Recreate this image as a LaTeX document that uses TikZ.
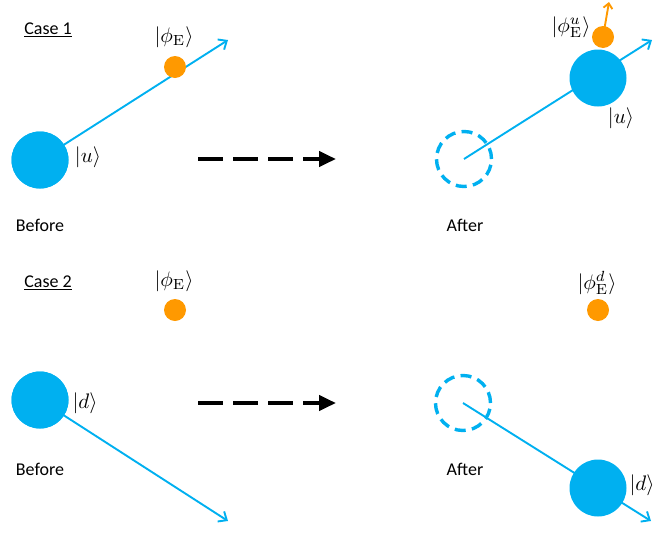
\documentclass[tikz,border=0pt]{standalone}
\usepackage{fontspec}
\usepackage{graphicx}
\setsansfont{Carlito}
\usetikzlibrary{arrows.meta}
\definecolor{qblue}{HTML}{00B0F0}
\definecolor{qorange}{HTML}{FF9900}
\newcommand{\mth}[1]{\scalebox{2.1}{$#1$}}
\begin{document}
\begin{tikzpicture}[x=1pt,y=-1pt,
  big/.style={circle,fill=qblue,minimum size=57pt,inner sep=0pt},
  ghost/.style={circle,draw=qblue,line width=3.4pt,dash pattern=on 11pt off 6.3pt,minimum size=55pt,inner sep=0pt},
  env/.style={circle,fill=qorange,minimum size=22pt,inner sep=0pt},
  path/.style={draw=qblue,line width=1.9pt,-{Straight Barb[length=7pt,width=12pt,line width=1.9pt]}},
  txt/.style={font=\sffamily\fontsize{18}{21}\selectfont},
  mlab/.style={inner sep=1pt},
  proc/.style={line width=4pt,dash pattern=on 25pt off 10pt,-{Triangle[length=17pt,width=15pt]}}]
\useasboundingbox (0,0) rectangle (664,536);
% Case 1 before
\coordinate (p1) at (228,40);
\node[big] (u1) at (40,160) {};
\draw[path] (u1.center) -- (p1);
\node[big] at (40,160) {};
\node[env] (e1) at (175,67) {};
\node[mlab] (le1) at (174,37) {\mth{|\phi_{\mathrm{E}}\rangle}};
\node[mlab] (lu1) at (88,157) {\mth{|u\rangle}};
\node[txt,inner sep=0pt] (c1) at (48,30) {\underline{Case 1}};
\node[txt] (b1) at (40,225) {Before};
\coordinate (a1s) at (198,159);
\coordinate (a1e) at (336,159);
\draw[proc] (a1s) -- (a1e);
% Case 1 after
\node[ghost] (g1) at (464,159) {};
\coordinate (q1) at (652,40);
\draw[path] (g1.center) -- (q1);
\node[big] (u1a) at (598,78) {};
\node[env] (e1a) at (603,37) {};
\coordinate (eo) at (609,2);
\draw[qorange,line width=1.9pt,-{Straight Barb[length=5pt,width=9pt,line width=1.9pt]}] (e1a.center) -- (eo);
\node[mlab] (le1a) at (571,27) {\mth{|\phi_{\mathrm{E}}^{u}\rangle}};
\node[mlab] (lu1a) at (621,118) {\mth{|u\rangle}};
\node[txt] (af1) at (465,225) {After};
% Case 2 before
\coordinate (p2) at (228,521);
\node[big] (d2) at (40,400) {};
\draw[path] (d2.center) -- (p2);
\node[big] at (40,400) {};
\node[env] (e2) at (175,310) {};
\node[mlab] (le2) at (174,281) {\mth{|\phi_{\mathrm{E}}\rangle}};
\node[mlab] (ld2) at (85,403) {\mth{|d\rangle}};
\node[txt,inner sep=0pt] (c2) at (48,283) {\underline{Case 2}};
\node[txt] (b2) at (40,469) {Before};
\coordinate (a2s) at (198,403);
\coordinate (a2e) at (336,403);
\draw[proc] (a2s) -- (a2e);
% Case 2 after
\node[ghost] (g2) at (463,403) {};
\coordinate (q2) at (651,521);
\draw[path] (g2.center) -- (q2);
\node[big] (d2a) at (598,488) {};
\node[env] (e2a) at (598,310) {};
\node[mlab] (le2a) at (597,283) {\mth{|\phi_{\mathrm{E}}^{d}\rangle}};
\node[mlab] (ld2a) at (642,485) {\mth{|d\rangle}};
\node[txt] (af2) at (465,469) {After};
\end{tikzpicture}
\end{document}
